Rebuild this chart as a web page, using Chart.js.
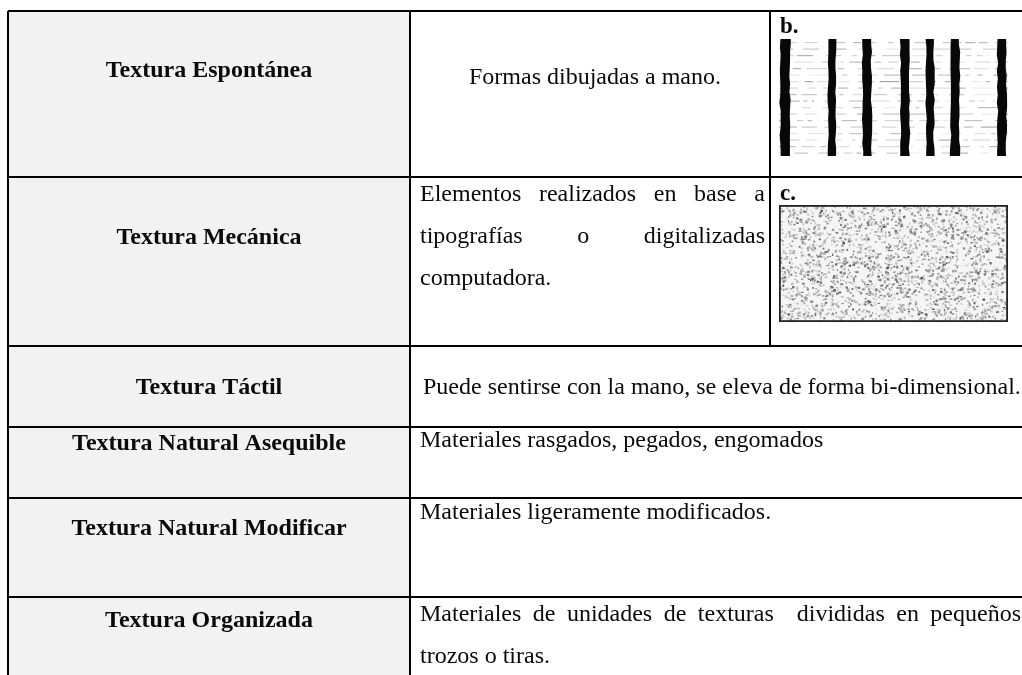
<!DOCTYPE html>
<html><head><meta charset="utf-8">
<script src="https://cdn.jsdelivr.net/npm/chart.js@4.4.1/dist/chart.umd.min.js"></script>
<style>html,body{margin:0;padding:0;background:#fff;overflow:hidden}#c{display:block}</style>
</head><body>
<canvas id="c" width="1022" height="675"></canvas>
<script>
// ---- table content ----
const rowLabels = [
  'Textura Espontánea',
  'Textura Mecánica',
  'Textura Táctil',
  'Textura Natural Asequible',
  'Textura Natural Modificar',
  'Textura Organizada'
];
const rowDescriptions = [
  ['Formas dibujadas a mano.'],
  ['Elementos realizados en base a', 'tipografías o digitalizadas', 'computadora.'],
  ['Puede sentirse con la mano, se eleva de forma bi-dimensional.'],
  ['Materiales rasgados, pegados, engomados'],
  ['Materiales ligeramente modificados.'],
  ['Materiales de unidades de texturas  divididas en pequeños', 'trozos o tiras.']
];
const figureLetters = ['b.', 'c.'];
const figureKinds = ['stripes', 'speckle'];

// ---- layout (table units, measured from the table's top-left corner) ----
const LAYOUT = {
  padLeft: 8, padTop: 11, width: 1014, height: 664,
  rowEdges: [0, 166, 335, 416, 487, 586],
  colEdges: [0, 402],
  figColEdge: 762,
  labelBaselines: [66, 233, 383, 439, 524, 616],
  descBaselines: [[73], [190, 232, 274], [383], [436], [508], [610, 652]],
  descAlign: ['center', 'justify', 'left', 'left', 'left', 'justify'],
  descLeft: [412, 412, 415, 412, 412, 412],
  descRight: [762, 757, 1014, 1014, 1014, 1013],
  figLetterBaselines: [22, 189],
  figBoxes: [[771, 28, 1000, 145], [771, 194, 1000, 311]]
};

const REG = '24px "Liberation Serif", "Times New Roman", serif';
const BOLD = 'bold 24px "Liberation Serif", "Times New Roman", serif';
const BOLD_SMALL = 'bold 23px "Liberation Serif", "Times New Roman", serif';

function mulberry32(a){return function(){a|=0;a=a+0x6D2B79F5|0;let t=Math.imul(a^a>>>15,1|a);t=t+Math.imul(t^t>>>7,61|t)^t;return((t^t>>>14)>>>0)/4294967296;};}

function drawJustified(ctx, line, x0, x1, y){
  const words = line.split(' ');
  const ww = words.reduce((s,w)=>s+ctx.measureText(w).width,0);
  const gaps = words.length-1;
  const gap = gaps>0 ? (x1-x0-ww)/gaps : 0;
  let x = x0;
  for(const w of words){ ctx.fillText(w, x, y); x += ctx.measureText(w).width + gap; }
}

function drawStripes(ctx, x0, y0, x1, y1){
  const rnd = mulberry32(7);
  ctx.save();
  ctx.fillStyle = '#fff'; ctx.fillRect(x0, y0, x1-x0, y1-y0);
  ctx.beginPath(); ctx.rect(x0, y0, x1-x0, y1-y0); ctx.clip();
  // faint horizontal dashes
  for(let y=y0+3; y<y1; y+=6.5){
    let x=x0;
    while(x<x1){
      const len = 2+rnd()*20, skip = 3+rnd()*10;
      const g = Math.floor(140+rnd()*80);
      ctx.fillStyle = `rgba(${g},${g},${g},${0.4+rnd()*0.4})`;
      ctx.fillRect(x, y, len, 1.2);
      x += len+skip;
    }
  }
  // thick vertical stripes
  const centers = [6, 53, 88, 126, 151, 176, 223];
  const widths = [10, 8, 9, 9, 8, 9, 9];
  ctx.fillStyle = '#080808';
  ctx.filter = 'blur(0.4px)';
  centers.forEach((c,i)=>{
    const w = widths[i];
    ctx.beginPath();
    const pts = [];
    for(let y=y0; y<=y1; y+=8){ pts.push([x0+c-w/2+(rnd()-0.5)*1.6, y]); }
    const pts2 = [];
    for(let y=y1; y>=y0; y-=8){ pts2.push([x0+c+w/2+(rnd()-0.5)*1.6, y]); }
    ctx.moveTo(pts[0][0], y0);
    pts.forEach(p=>ctx.lineTo(p[0],p[1]));
    ctx.lineTo(pts[pts.length-1][0], y1);
    ctx.lineTo(pts2[0][0], y1);
    pts2.forEach(p=>ctx.lineTo(p[0],p[1]));
    ctx.lineTo(pts2[pts2.length-1][0], y0);
    ctx.closePath(); ctx.fill();
  });
  ctx.restore();
}

function drawSpeckle(ctx, x0, y0, x1, y1){
  const rnd = mulberry32(11);
  ctx.save();
  ctx.fillStyle = '#f5f5f5'; ctx.fillRect(x0, y0, x1-x0, y1-y0);
  ctx.beginPath(); ctx.rect(x0, y0, x1-x0, y1-y0); ctx.clip();
  const n = Math.floor((x1-x0)*(y1-y0)/10);
  for(let i=0;i<n;i++){
    const x = x0 + rnd()*(x1-x0), y = y0 + rnd()*(y1-y0);
    const g = Math.floor(60+rnd()*150);
    ctx.fillStyle = `rgba(${g},${g},${g},${0.4+rnd()*0.5})`;
    const s = 1+rnd()*1.8;
    ctx.fillRect(x, y, s, 1+rnd()*1.4);
  }
  ctx.restore();
  ctx.strokeStyle = '#222'; ctx.lineWidth = 1.8;
  ctx.strokeRect(x0+0.9, y0+0.9, x1-x0-1.8, y1-y0-1.8);
}

const tablePlugin = {
  id: 'tablePlugin',
  beforeDraw(chart){
    const {ctx, scales:{x, y}} = chart;
    ctx.save();
    ctx.fillStyle = '#f2f2f2';
    const px0 = x.getPixelForValue(LAYOUT.colEdges[0]), px1 = x.getPixelForValue(LAYOUT.colEdges[1]);
    const py0 = y.getPixelForValue(0), py1 = y.getPixelForValue(LAYOUT.height);
    ctx.fillRect(px0, py0, px1-px0, py1-py0);
    ctx.restore();
  },
  afterDraw(chart){
    const {ctx, scales:{x, y}} = chart;
    ctx.save();
    ctx.fillStyle = '#0a0a0a';
    ctx.textBaseline = 'alphabetic';
    // row labels
    ctx.font = BOLD; ctx.textAlign = 'center';
    const cx = x.getPixelForValue((LAYOUT.colEdges[0]+LAYOUT.colEdges[1])/2);
    rowLabels.forEach((lab,i)=>{ ctx.fillText(lab, cx, y.getPixelForValue(LAYOUT.labelBaselines[i])); });
    // descriptions
    ctx.font = REG;
    rowDescriptions.forEach((lines,i)=>{
      const align = LAYOUT.descAlign[i];
      const xl = x.getPixelForValue(LAYOUT.descLeft[i]), xr = x.getPixelForValue(LAYOUT.descRight[i]);
      lines.forEach((ln,j)=>{
        const py = y.getPixelForValue(LAYOUT.descBaselines[i][j]);
        if(align==='center'){ ctx.textAlign='center'; ctx.fillText(ln, (xl+xr)/2, py); }
        else if(align==='justify' && j<lines.length-1){ ctx.textAlign='left'; drawJustified(ctx, ln, xl, xr, py); }
        else { ctx.textAlign='left'; ctx.fillText(ln, xl, py); }
      });
    });
    // figures
    figureLetters.forEach((lt,i)=>{
      const b = LAYOUT.figBoxes[i];
      const bx0 = x.getPixelForValue(b[0]), by0 = y.getPixelForValue(b[1]);
      const bx1 = x.getPixelForValue(b[2]), by1 = y.getPixelForValue(b[3]);
      ctx.font = BOLD_SMALL; ctx.textAlign = 'left'; ctx.fillStyle = '#0a0a0a';
      ctx.fillText(lt, bx0+1, y.getPixelForValue(LAYOUT.figLetterBaselines[i]));
      if(figureKinds[i]==='stripes') drawStripes(ctx, bx0, by0, bx1, by1);
      else drawSpeckle(ctx, bx0, by0, bx1, by1);
    });
    ctx.restore();
  }
};

const gridOpts = {color:'#000', lineWidth:2, drawTicks:false};
new Chart(document.getElementById('c'), {
  type: 'scatter',
  data: { datasets: [{
    data: [{x: LAYOUT.figColEdge, y: LAYOUT.rowEdges[0]}, {x: LAYOUT.figColEdge, y: LAYOUT.rowEdges[2]}],
    showLine: true, borderColor: '#000', borderWidth: 2, pointRadius: 0, clip: false
  }]},
  options: {
    responsive: false, animation: false, devicePixelRatio: 1, events: [],
    layout: {padding: {left: LAYOUT.padLeft, top: LAYOUT.padTop, right: 0, bottom: 0}},
    plugins: {legend: {display: false}, tooltip: {enabled: false}},
    scales: {
      x: {type: 'linear', min: 0, max: LAYOUT.width,
          afterBuildTicks: s => { s.ticks = LAYOUT.colEdges.map(v => ({value: v})); },
          ticks: {display: false}, grid: gridOpts, border: {display: false}},
      y: {type: 'linear', reverse: true, min: 0, max: LAYOUT.height,
          afterBuildTicks: s => { s.ticks = LAYOUT.rowEdges.map(v => ({value: v})); },
          ticks: {display: false}, grid: gridOpts, border: {display: false}}
    }
  },
  plugins: [tablePlugin]
});
</script>
</body></html>
